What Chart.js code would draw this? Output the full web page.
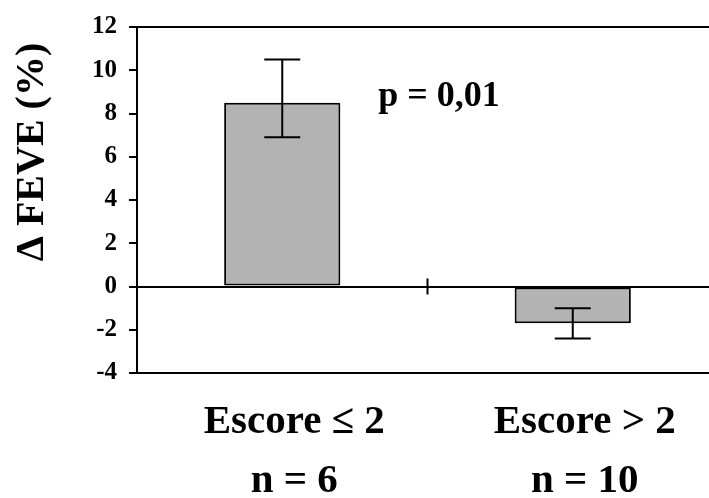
<!DOCTYPE html>
<html>
<head>
<meta charset="utf-8">
<script src="https://cdn.jsdelivr.net/npm/chart.js@4/dist/chart.umd.min.js"></script>
<style>
  html, body { margin: 0; padding: 0; background: #fff; overflow: hidden; }
  #wrap { width: 709px; height: 498px; overflow: hidden; }
</style>
</head>
<body>
<div id="wrap"><canvas id="feveChart" width="718" height="498"></canvas></div>
<script>
// data
let groups = ["Escore ≤ 2", "Escore > 2"];
let sizes = ["n = 6", "n = 10"];
let deltaFeve = [8.5, -1.7];
let errLow = [6.9, -2.4];
let errHigh = [10.5, -1.0];
let yTicks = [-4, -2, 0, 2, 4, 6, 8, 10, 12];
let pText = "p = 0,01";
let yTitle = "Δ FEVE (%)";

const serif = "'Liberation Serif', 'Times New Roman', serif";

// error bars, middle tick, y title and p-value
const extras = {
  id: "extras",
  afterDatasetsDraw(chart) {
    let c = chart.ctx, x = chart.scales.x, y = chart.scales.y;
    c.save();
    c.strokeStyle = "#000";
    c.lineWidth = 2;
    deltaFeve.forEach((v, i) => {
      let px = x.getPixelForValue(i);
      let top = y.getPixelForValue(errHigh[i]);
      let bot = y.getPixelForValue(errLow[i]);
      c.beginPath();
      c.moveTo(px, top); c.lineTo(px, bot);
      c.moveTo(px - 18, top); c.lineTo(px + 18, top);
      c.moveTo(px - 18, bot); c.lineTo(px + 18, bot);
      c.stroke();
    });
    // tick between the two groups on the zero line
    let mid = (x.getPixelForValue(0) + x.getPixelForValue(1)) / 2;
    let zero = y.getPixelForValue(0);
    c.beginPath();
    c.moveTo(mid, zero - 8); c.lineTo(mid, zero + 8);
    c.stroke();

    c.fillStyle = "#000";
    c.font = "bold 36px " + serif;
    c.textAlign = "left";
    c.textBaseline = "alphabetic";
    c.fillText(pText, x.getPixelForValue(0) + 96, y.getPixelForValue(8.35));

    c.translate(33, 152);
    c.rotate(-Math.PI / 2);
    c.textAlign = "center";
    c.textBaseline = "middle";
    c.font = "bold 40px " + serif;
    c.fillText(yTitle, 0, 0);
    c.restore();
  }
};

let ctx = document.getElementById("feveChart").getContext("2d");
new Chart(ctx, {
  type: "bar",
  data: {
    labels: groups.map((g, i) => [g, sizes[i]]),
    datasets: [{
      data: deltaFeve,
      backgroundColor: "#b3b3b3",
      borderColor: "#000",
      borderWidth: 2,
      borderSkipped: false,
      barPercentage: 0.4,
      categoryPercentage: 1
    }]
  },
  options: {
    responsive: false,
    animation: false,
    layout: { padding: { top: 24, left: 0, right: 0, bottom: 0 } },
    plugins: { legend: { display: false }, tooltip: { enabled: false } },
    scales: {
      x: {
        grid: { display: false },
        border: { display: true, color: "#000", width: 2 },
        afterFit: s => { s.height = 125; },
        ticks: {
          color: "#000",
          padding: 11,
          labelOffset: 12,
          maxRotation: 0,
          font: { family: serif, size: 41, weight: "bold", lineHeight: 1.46 }
        }
      },
      y: {
        min: -4,
        max: 12,
        afterFit: s => { s.width = 137; },
        afterBuildTicks: s => { s.ticks = yTicks.map(v => ({ value: v })); },
        border: { display: true, color: "#000", width: 2 },
        grid: {
          color: c => (c.tick && (c.tick.value === 0 || c.tick.value === 12)) ? "#000" : "rgba(0,0,0,0)",
          lineWidth: 2,
          tickColor: "#000",
          tickLength: 8,
          drawTicks: true
        },
        ticks: {
          color: "#000",
          padding: 12,
          font: { family: serif, size: 25, weight: "bold" }
        }
      }
    }
  },
  plugins: [extras]
});
</script>
</body>
</html>
